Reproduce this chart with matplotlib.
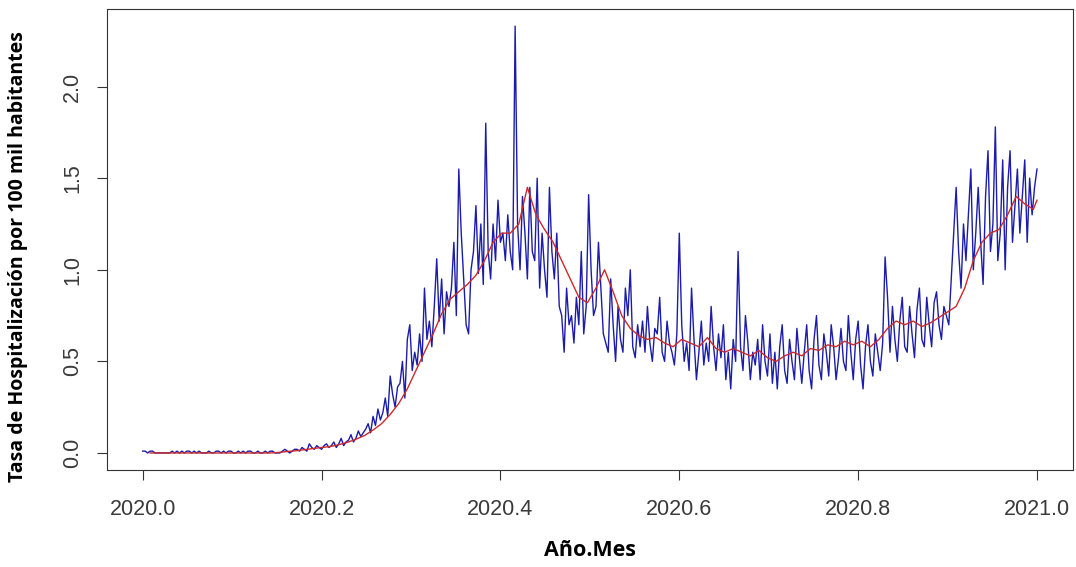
import numpy as np
import matplotlib.pyplot as plt

# daily hospitalization rate (per 100k), one row per week
daily_rate = [
    0.01, 0.01, 0.0, 0.01, 0.01, 0.0, 0.0,
    0.0, 0.0, 0.0, 0.0, 0.0, 0.01, 0.0,
    0.01, 0.0, 0.01, 0.0, 0.01, 0.01, 0.0,
    0.01, 0.0, 0.01, 0.0, 0.0, 0.0, 0.01,
    0.0, 0.0, 0.01, 0.01, 0.0, 0.01, 0.0,
    0.01, 0.01, 0.0, 0.0, 0.01, 0.0, 0.01,
    0.0, 0.01, 0.01, 0.0, 0.0, 0.01, 0.0,
    0.0, 0.01, 0.0, 0.01, 0.01, 0.0, 0.0,
    0.0, 0.01, 0.02, 0.01, 0.0, 0.01, 0.02,
    0.02, 0.01, 0.03, 0.02, 0.01, 0.05, 0.03,
    0.02, 0.04, 0.03, 0.02, 0.04, 0.05, 0.03,
    0.04, 0.06, 0.03, 0.05, 0.08, 0.04, 0.06,
    0.07, 0.10, 0.06, 0.08, 0.12, 0.09, 0.11,
    0.13, 0.16, 0.11, 0.20, 0.15, 0.24, 0.18,
    0.22, 0.30, 0.20, 0.42, 0.32, 0.25, 0.36,
    0.38, 0.50, 0.30, 0.62, 0.70, 0.45, 0.55,
    0.48, 0.65, 0.50, 0.90, 0.62, 0.72, 0.58,
    0.80, 1.06, 0.72, 0.95, 0.65, 0.88, 0.80,
    0.90, 1.15, 0.75, 1.55, 1.20, 0.95, 0.70,
    0.65, 1.00, 1.10, 1.35, 0.98, 1.25, 0.92,
    1.80, 1.10, 0.95, 1.25, 1.05, 1.38, 1.15,
    1.20, 1.05, 1.30, 1.10, 1.00, 2.33, 1.25,
    1.00, 1.40, 1.20, 0.95, 1.45, 1.10, 1.05,
    1.50, 0.90, 1.20, 1.00, 0.85, 1.45, 1.10,
    0.95, 1.20, 0.80, 0.75, 0.55, 0.90, 0.70,
    0.75, 0.60, 0.85, 0.70, 1.10, 0.65, 0.80,
    1.41, 1.00, 0.75, 0.80, 1.15, 0.90, 0.65,
    0.60, 0.55, 0.95, 0.70, 0.50, 0.80, 0.62,
    0.55, 0.90, 0.75, 1.00, 0.58, 0.52, 0.70,
    0.58, 0.72, 0.55, 0.80, 0.60, 0.50, 0.68,
    0.65, 0.85, 0.55, 0.50, 0.72, 0.60, 0.55,
    0.48, 0.65, 1.20, 0.70, 0.50, 0.60, 0.45,
    0.90, 0.62, 0.40, 0.55, 0.72, 0.48, 0.60,
    0.50, 0.80, 0.58, 0.45, 0.65, 0.52, 0.70,
    0.40, 0.55, 0.35, 0.62, 0.50, 1.10, 0.58,
    0.45, 0.75, 0.60, 0.40, 0.55, 0.48, 0.62,
    0.40, 0.70, 0.50, 0.42, 0.65, 0.38, 0.55,
    0.35, 0.58, 0.70, 0.45, 0.38, 0.62, 0.50,
    0.40, 0.68, 0.52, 0.38, 0.55, 0.70, 0.45,
    0.35, 0.62, 0.75, 0.48, 0.40, 0.65, 0.55,
    0.42, 0.70, 0.58, 0.40, 0.52, 0.68, 0.50,
    0.45, 0.75, 0.55, 0.40, 0.62, 0.72, 0.48,
    0.35, 0.58, 0.70, 0.50, 0.42, 0.65, 0.55,
    0.45, 0.60, 1.07, 0.85, 0.55, 0.80, 0.62,
    0.50, 0.72, 0.85, 0.58, 0.55, 0.80, 0.65,
    0.52, 0.78, 0.90, 0.62, 0.58, 0.85, 0.70,
    0.58, 0.82, 0.88, 0.70, 0.62, 0.80, 0.75,
    0.70, 0.95, 1.20, 1.45, 1.10, 0.90, 1.25,
    1.05, 1.30, 1.55, 1.00, 1.20, 1.45, 1.15,
    0.92, 1.40, 1.65, 1.10, 1.25, 1.78, 1.05,
    1.20, 1.60, 1.00, 1.45, 1.65, 1.15, 1.35,
    1.55, 1.20, 1.40, 1.60, 1.15, 1.50, 1.30,
    1.45, 1.55,
]

# smoothed rate (moving average), read every 3.5 days starting on day 3
smooth_rate = [
    0.0, 0.0, 0.0, 0.0, 0.0, 0.0, 0.0, 0.0,
    0.0, 0.0, 0.0, 0.0, 0.0, 0.0, 0.0, 0.003,
    0.008, 0.012, 0.018, 0.024, 0.03, 0.035, 0.045, 0.058,
    0.075, 0.095, 0.125, 0.16, 0.21, 0.27, 0.35, 0.45,
    0.55, 0.65, 0.76, 0.84, 0.88, 0.92, 0.97, 1.05,
    1.15, 1.20, 1.20, 1.25, 1.45, 1.30, 1.22, 1.15,
    1.05, 0.95, 0.85, 0.82, 0.90, 1.00, 0.88, 0.75,
    0.68, 0.64, 0.62, 0.63, 0.60, 0.58, 0.62, 0.60,
    0.58, 0.63, 0.57, 0.55, 0.57, 0.55, 0.53, 0.56,
    0.52, 0.50, 0.53, 0.55, 0.53, 0.57, 0.56, 0.59,
    0.58, 0.61, 0.59, 0.61, 0.58, 0.62, 0.68, 0.72,
    0.70, 0.72, 0.69, 0.71, 0.74, 0.77, 0.80, 0.90,
    1.05, 1.15, 1.20, 1.22, 1.30, 1.40, 1.36, 1.33,
    1.38,
]

x_ticks = [2020.0, 2020.2, 2020.4, 2020.6, 2020.8, 2021.0]
y_ticks = [0.0, 0.5, 1.0, 1.5, 2.0]

n_days = len(daily_rate)
t_daily = 2020 + np.arange(n_days) / (n_days - 1)
smooth_day = np.minimum(3 + 3.5 * np.arange(len(smooth_rate)), n_days - 1)
t_smooth = 2020 + smooth_day / (n_days - 1)

plt.rcParams['font.family'] = ['Liberation Sans', 'DejaVu Sans']

fig = plt.figure(figsize=(10.76, 5.67), dpi=100)
ax = fig.add_axes([0.0994, 0.171, 0.8976, 0.813])

ax.plot(t_daily, daily_rate, color='#1c1caa', lw=1.0)
ax.plot(t_smooth, smooth_rate, color='#cc2a2a', lw=1.0)

ax.set_xlim(2020 - 0.04, 2021 + 0.04)
ymax = max(daily_rate)
ax.set_ylim(-0.04 * ymax, ymax * 1.04)

ax.set_xticks(x_ticks)
ax.set_xticklabels([f"{v:.1f}" for v in x_ticks], fontsize=15.5, color='#3a3a3a')
ax.set_yticks(y_ticks)
ax.set_yticklabels([f"{v:.1f}" for v in y_ticks], fontsize=15.5, color='#3a3a3a',
                   rotation=90, va='center')
ax.tick_params(length=7, width=0.8, color='#333333')
ax.tick_params(axis='x', pad=14)
ax.tick_params(axis='y', pad=10)

for s in ax.spines.values():
    s.set_linewidth(0.8)
    s.set_color('#333333')

ax.set_xlabel("Año.Mes", fontsize=15.5, fontweight='bold', family='Open Sans',
              labelpad=14)
ax.set_ylabel("Tasa de Hospitalización por 100 mil habitantes", fontsize=14,
              fontweight='bold', family='Open Sans')
ax.yaxis.set_label_coords(-0.082, 0.463)

fig.savefig("out.png", dpi=100)
